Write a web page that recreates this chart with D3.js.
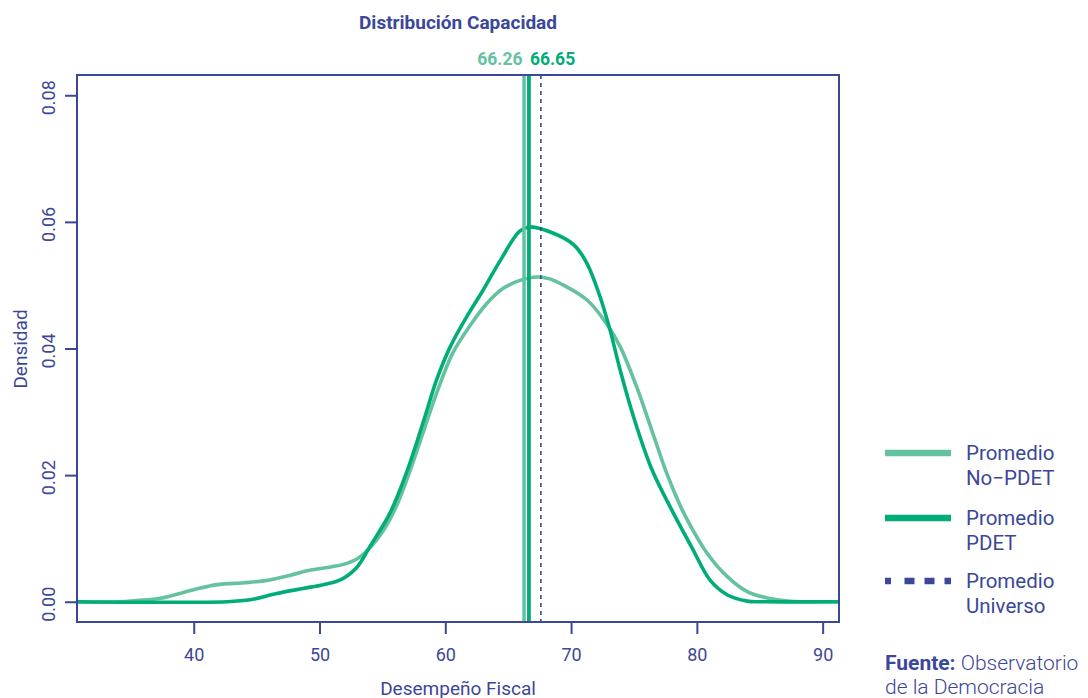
<!DOCTYPE html>
<html><head><meta charset="utf-8">
<script src="https://cdn.jsdelivr.net/npm/d3@7"></script>
<style>
html,body{margin:0;padding:0;background:#fff;}
svg{display:block;font-family:Roboto,"Noto Sans",sans-serif;}
</style></head>
<body><svg id="c" width="1088" height="698"></svg>
<script>
// ---- data ----
const noPdetX = [30.7,34,35.5,37.35,40,41.85,44,45.56,47.7,49.3,50.9,51.9,53.0,54.0,55.0,56.0,57.0,58.3,59.3,60.6,62.0,63.3,64.6,66.0,67.3,68.3,69.4,71.25,72.8,73.9,75.2,76.5,77.6,78.6,79.3,80.8,82.4,84.0,85.6,87.2,89,91.3];
const noPdetY = [0,0,0.0002,0.00055,0.0019,0.0027,0.0030,0.0033,0.0042,0.0050,0.0055,0.0059,0.0068,0.0085,0.0110,0.0146,0.0196,0.0271,0.0329,0.0393,0.0437,0.0471,0.0495,0.0508,0.0513,0.0510,0.0500,0.0477,0.0440,0.0403,0.0340,0.0266,0.0203,0.0155,0.0127,0.0077,0.0040,0.0016,0.0006,0.0001,0,0];
const pdetX = [30.7,42.6,44.5,46.6,48.7,50.3,51.7,53.0,54.0,55.6,56.9,58.3,59.3,60.4,61.7,63.0,64.4,65.9,66.7,68.6,70.2,71.25,72.3,73.1,73.9,75.0,76.4,78.0,79.7,81.05,82.4,84.0,85,91.3];
const pdetY = [0,0,0.0003,0.0013,0.0021,0.0027,0.0035,0.0055,0.0087,0.0140,0.0203,0.0287,0.0350,0.0403,0.0450,0.0492,0.0540,0.0585,0.0592,0.0582,0.0564,0.0535,0.0482,0.0429,0.0366,0.0290,0.0210,0.0145,0.0082,0.0034,0.0011,0.0001,0,0];
const meanNoPdet = 66.26, meanPdet = 66.65, meanUniverso = 67.6;
const xTicks = [40,50,60,70,80,90];
const yTicks = [0,0.02,0.04,0.06,0.08];
const legendLabels = [["Promedio","No\u2212PDET"],["Promedio","PDET"],["Promedio","Universo"]];
const titleText = "Distribución Capacidad";
const xLabel = "Desempeño Fiscal", yLabel = "Densidad";

// ---- styles ----
const navy = "#3B4799", light = "#64C29F", dark = "#00AC78";
const L = 77, R = 839, T = 75, B = 622;
const svg = d3.select("#c");
const x = d3.scaleLinear().domain([30.72, 91.3]).range([L, R]);
const y = d3.scaleLinear().domain([-0.0032, 0.0832]).range([B, T]);

svg.append("clipPath").attr("id","clip").append("rect")
  .attr("x",L).attr("y",T).attr("width",R-L).attr("height",B-T);

const line = d3.line().x(d=>x(d[0])).y(d=>y(d[1])).curve(d3.curveCatmullRom.alpha(0.5));
const g = svg.append("g").attr("clip-path","url(#clip)");
g.append("path").datum(d3.zip(noPdetX,noPdetY)).attr("d",line)
  .attr("fill","none").attr("stroke",light).attr("stroke-width",3.6);
g.append("path").datum(d3.zip(pdetX,pdetY)).attr("d",line)
  .attr("fill","none").attr("stroke",dark).attr("stroke-width",3.6);

// mean lines
g.append("line").attr("x1",x(meanNoPdet)).attr("x2",x(meanNoPdet)).attr("y1",T).attr("y2",B)
  .attr("stroke",light).attr("stroke-width",3.5);
g.append("line").attr("x1",x(meanPdet)).attr("x2",x(meanPdet)).attr("y1",T).attr("y2",B)
  .attr("stroke",dark).attr("stroke-width",3.8);
g.append("line").attr("x1",x(meanUniverso)).attr("x2",x(meanUniverso)).attr("y1",T).attr("y2",B)
  .attr("stroke",navy).attr("stroke-width",1.6).attr("stroke-dasharray","4,4");

// box
svg.append("rect").attr("x",L).attr("y",T).attr("width",R-L).attr("height",B-T)
  .attr("fill","none").attr("stroke",navy).attr("stroke-width",2);

// axes
const xa = svg.append("g").attr("transform",`translate(0,${B})`)
  .call(d3.axisBottom(x).tickValues(xTicks).tickSize(12).tickPadding(14).tickFormat(d3.format("d")));
xa.select(".domain").remove();
xa.selectAll("line").attr("stroke",navy).attr("stroke-width",2);
xa.selectAll("text").attr("fill",navy).attr("font-size",18).attr("font-family","Roboto");

const ya = svg.append("g").attr("transform",`translate(${L},0)`)
  .call(d3.axisLeft(y).tickValues(yTicks).tickSize(12).tickFormat(d3.format(".2f")));
ya.select(".domain").remove();
ya.selectAll("line").attr("stroke",navy).attr("stroke-width",2);
ya.selectAll("text").attr("fill",navy).attr("font-size",18).attr("font-family","Roboto")
  .attr("x",null).attr("dy",null)
  .attr("text-anchor","middle").attr("dominant-baseline","central")
  .attr("transform","translate(-29,2) rotate(-90)");

svg.append("text").attr("x",(L+R)/2).attr("y",688).attr("text-anchor","middle")
  .attr("dominant-baseline","central").attr("fill",navy).attr("font-size",19).text(xLabel);
svg.append("text").attr("transform","translate(20,349) rotate(-90)").attr("text-anchor","middle")
  .attr("dominant-baseline","central").attr("fill",navy).attr("font-size",19).text(yLabel);

// title
svg.append("text").attr("x",458).attr("y",29).attr("text-anchor","middle")
  .attr("fill",navy).attr("font-size",18).attr("font-weight","bold")
  .attr("textLength",198).attr("lengthAdjust","spacingAndGlyphs").text(titleText);

// mean labels
svg.append("text").attr("x",x(meanNoPdet)-1.5).attr("y",65).attr("text-anchor","end")
  .attr("fill",light).attr("font-size",17.5).attr("font-weight","bold").text(meanNoPdet.toFixed(2));
svg.append("text").attr("x",x(meanPdet)+1).attr("y",65).attr("text-anchor","start")
  .attr("fill",dark).attr("font-size",17.5).attr("font-weight","bold").text(meanPdet.toFixed(2));

// legend
const legColors = [light, dark, navy];
const legY = [453, 518, 581];
legendLabels.forEach((lab,i)=>{
  const ln = svg.append("line").attr("x1",885).attr("x2",951).attr("y1",legY[i]).attr("y2",legY[i])
    .attr("stroke",legColors[i]).attr("stroke-width",6.5);
  if(i===2) ln.attr("stroke-dasharray","6,13.5,10,10,10,10,10");
  const t = svg.append("text").attr("x",966).attr("y",legY[i]).attr("fill",navy).attr("font-size",20.5);
  lab.forEach((s,j)=>t.append("tspan").attr("x",966).attr("y",legY[i]+j*25).attr("dominant-baseline","central").text(s));
});
const f = svg.append("text").attr("x",885).attr("y",663).attr("dominant-baseline","central").attr("fill",navy).attr("font-size",21);
f.append("tspan").attr("font-weight","bold").text("Fuente:");
f.append("tspan").attr("font-weight","300").text(" Observatorio");
svg.append("text").attr("x",885).attr("y",687).attr("dominant-baseline","central").attr("fill",navy)
  .attr("font-size",21).attr("font-weight","300").text("de la Democracia");
</script></body></html>
